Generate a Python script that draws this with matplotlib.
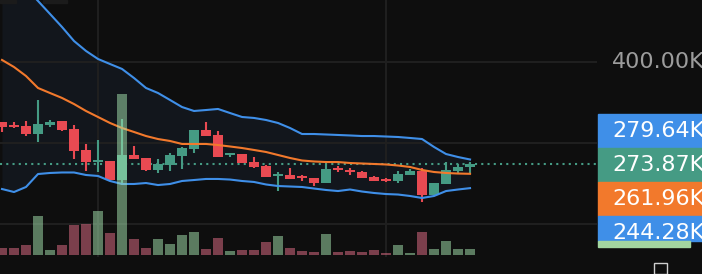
import matplotlib.pyplot as plt
from matplotlib.patches import Rectangle
import numpy as np

# candles (values in K)
opens = [325.9, 322.6, 321.0, 311.1, 322.2, 327.2, 317.7, 291.4, 276.5, 277.8,
         254.3, 285.2, 281.5, 266.7, 272.8, 284.0, 292.6, 316.0, 309.9, 285.2,
         286.4, 276.5, 271.6, 259.3, 260.5, 259.0, 256.8, 250.6, 269.1, 266.7,
         264.2, 258.0, 255.6, 253.1, 260.5, 265.4, 235.8, 249.4, 265.4, 270.4]
highs = [325.9, 325.9, 327.2, 353.1, 328.8, 327.2, 322.2, 298.8, 303.7, 277.8,
         329.6, 296.3, 281.5, 280.2, 287.7, 295.1, 316.0, 325.9, 314.8, 287.7,
         286.4, 282.7, 272.8, 264.2, 269.1, 260.9, 256.8, 274.1, 271.6, 269.1,
         265.4, 259.3, 256.8, 265.4, 267.9, 269.1, 250.6, 276.5, 274.1, 276.5]
lows = [313.6, 318.5, 308.6, 301.2, 319.8, 314.8, 280.2, 265.4, 264.2, 254.3,
        248.1, 280.2, 265.4, 263.0, 265.4, 267.9, 287.7, 308.6, 282.7, 282.7,
        275.3, 269.1, 258.0, 240.7, 255.6, 253.5, 246.9, 250.6, 264.2, 260.5,
        256.8, 253.1, 251.9, 250.6, 260.5, 227.2, 235.8, 249.4, 263.0, 261.7]
closes = [319.8, 319.4, 311.1, 323.5, 326.3, 316.0, 290.5, 276.5, 279.0, 254.3,
          285.2, 280.2, 266.7, 274.1, 285.2, 293.8, 316.0, 308.6, 282.7, 287.7,
          275.3, 270.4, 258.0, 261.7, 255.6, 256.3, 250.6, 267.9, 266.7, 264.2,
          256.8, 253.1, 253.1, 261.7, 265.4, 235.8, 250.6, 266.7, 270.4, 273.87]
volumes = [70, 70, 100, 390, 50, 100, 300, 310, 440, 220,
           1610, 160, 70, 160, 110, 200, 230, 60, 170, 40,
           50, 50, 130, 190, 70, 40, 30, 210, 30, 40,
           30, 50, 20, 100, 20, 230, 60, 140, 60, 60]

# bollinger bands
bb_upper = [523.5, 507.4, 491.4, 475.3, 459.3, 443.2, 425.9, 413.6, 403.7, 397.5,
            391.4, 380.2, 367.9, 361.7, 353.1, 344.4, 339.5, 340.7, 342.0, 337.0,
            332.1, 330.9, 328.4, 324.7, 318.5, 311.1, 311.1, 310.5, 309.9, 309.3,
            308.6, 308.6, 308.0, 307.4, 306.2, 304.9, 295.1, 286.4, 282.7, 279.64]
bb_mid = [402.5, 393.8, 382.7, 367.9, 361.7, 355.6, 348.1, 339.5, 332.1, 324.7,
          318.5, 313.6, 308.6, 304.9, 302.5, 298.8, 298.8, 298.8, 297.5, 295.7,
          293.8, 291.4, 288.9, 285.2, 281.5, 278.4, 277.2, 276.5, 276.5, 275.3,
          274.7, 274.1, 273.5, 272.2, 270.4, 266.7, 264.2, 263.0, 262.3, 261.96]
bb_lower = [243.2, 239.5, 245.7, 261.7, 263.0, 263.6, 263.6, 260.5, 259.3, 253.1,
            249.4, 249.4, 250.6, 248.1, 249.4, 253.1, 254.3, 255.6, 255.6, 254.9,
            253.1, 251.9, 248.8, 246.9, 246.3, 245.7, 243.8, 242.0, 240.7, 242.6,
            240.1, 238.3, 237.0, 236.4, 234.6, 232.1, 234.6, 240.7, 242.6, 244.28]

price_ticks = [200, 300, 400]
time_grid = [8, 32]

BG = '#0e0e0e'
UP = '#459b84'
DOWN = '#e84a52'
BLUE = '#3f8fe8'
ORANGE = '#f2792c'
GRID = '#1f1f1f'

W, H = 702, 274
fig = plt.figure(figsize=(W / 100, H / 100), dpi=100, facecolor=BG)


def fx(px):
    return px / W


def fy(py):
    return 1 - py / H


ax = fig.add_axes([0, 0, 597 / W, 1])
ax.set_facecolor(BG)
x = np.arange(len(opens))
o = np.array(opens)
c = np.array(closes)
up = c >= o
cols = np.where(up, UP, DOWN)

ax.fill_between(x, bb_lower, bb_upper, color='#12161c', lw=0, zorder=0)
for t in price_ticks:
    ax.axhline(t, color=GRID, lw=1.5, zorder=1)
for t in time_grid:
    ax.axvline(t, ymin=18 / H, color=GRID, lw=1.5, zorder=1)

ax.axhline(closes[-1], color=UP, lw=1.5, ls=(0, (1, 2)), zorder=2)

ax.vlines(x, lows, highs, colors=cols, lw=1.5, zorder=3)
body_h = np.maximum(np.abs(c - o), 1.5)
ax.bar(x, body_h, bottom=np.minimum(o, c), width=0.83, color=cols, zorder=4)

ax.plot(x, bb_upper, color=BLUE, lw=1.5, zorder=5)
ax.plot(x, bb_lower, color=BLUE, lw=1.5, zorder=5)
ax.plot(x, bb_mid, color=ORANGE, lw=1.5, zorder=5)

ax.set_xlim(-1 / 6, 49.58)
ax.set_ylim(138.3, 476.5)
ax.axis('off')

vax = ax.twinx()
vcols = np.where(up, '#a8e8b2', '#e8708a')
vax.bar(x, volumes, width=0.83, color=vcols, alpha=0.5, zorder=6)
vax.set_ylim(-190, 2550)
vax.axis('off')

# price scale
fig.text(fx(612), fy(60), '400.00K', color='#9c9c9c', fontsize=16,
         va='center_baseline', ha='left')

tags = [(bb_upper[-1], BLUE), (closes[-1], UP), (bb_mid[-1], ORANGE),
        (bb_lower[-1], BLUE)]
tag_h = [34, 34, 34, 25]
y0 = 114
for (val, col), h in zip(tags, tag_h):
    fig.add_artist(Rectangle((fx(598), fy(y0 + h)), fx(110), h / H, color=col,
                             transform=fig.transFigure, zorder=10))
    fig.text(fx(612), fy(y0 + 15), f'{val:.2f}K', color='white', fontsize=16,
             va='center_baseline', ha='left', zorder=11)
    y0 += h

fig.add_artist(Rectangle((fx(598), fy(247)), fx(92), 6 / H, color='#a3d6a0',
                         transform=fig.transFigure, zorder=13))
fig.add_artist(Rectangle((fx(654), fy(274)), fx(13), 11 / H, fill=False,
                         edgecolor='#cfcfcf', lw=1, transform=fig.transFigure, zorder=13))

# legend remnants at the top
fig.add_artist(Rectangle((0, fy(3)), fx(16), 3 / H, color='#1b1b1b',
                         transform=fig.transFigure, zorder=13))
fig.add_artist(Rectangle((fx(43), fy(3)), fx(24), 3 / H, color='#1b1b1b',
                         transform=fig.transFigure, zorder=13))

fig.savefig('out.png', dpi=100, facecolor=BG)
